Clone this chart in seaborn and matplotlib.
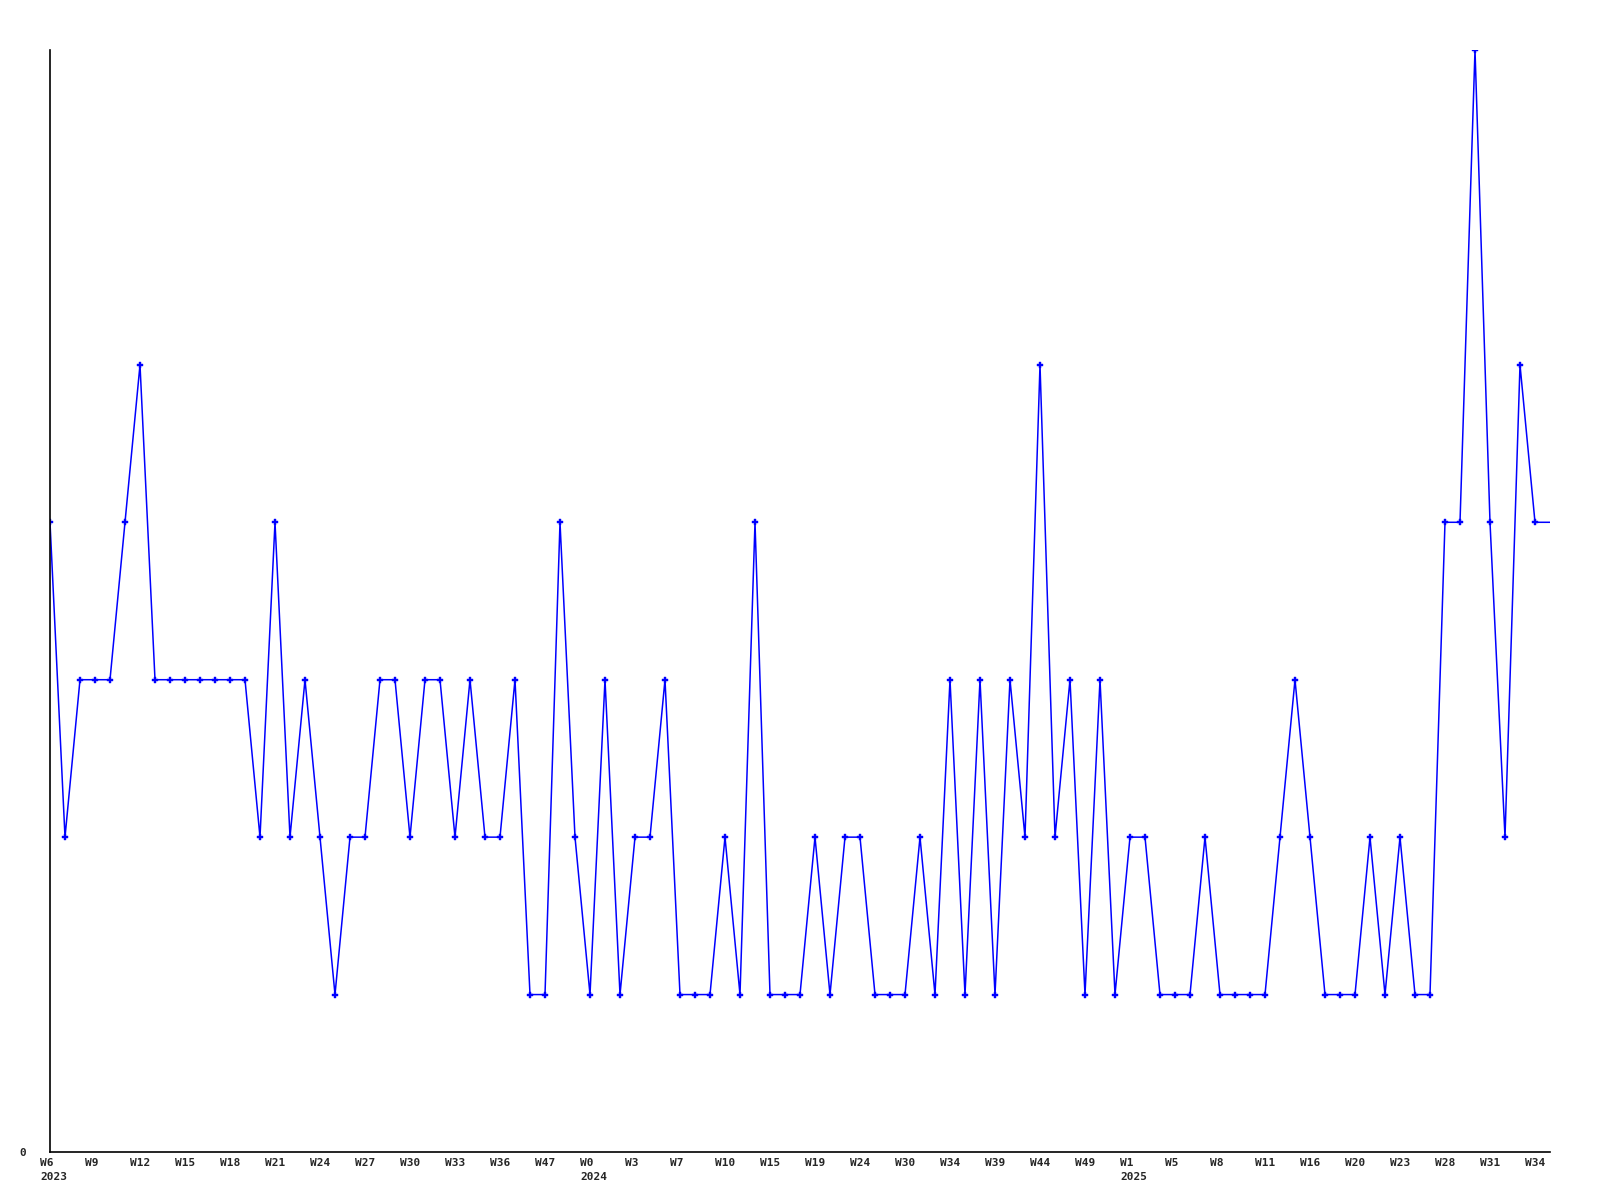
import numpy as np
import pandas as pd
import matplotlib
matplotlib.use('Agg')
import matplotlib.pyplot as plt
import matplotlib.transforms as mtransforms
import seaborn as sns

# weekly counts
values = [4, 2, 3, 3, 3, 4, 5, 3, 3, 3, 3, 3, 3, 3, 2, 4, 2, 3, 2, 1,
          2, 2, 3, 3, 2, 3, 3, 2, 3, 2, 2, 3, 1, 1, 4, 2, 1, 3, 1, 2,
          2, 3, 1, 1, 1, 2, 1, 4, 1, 1, 1, 2, 1, 2, 2, 1, 1, 1, 2, 1,
          3, 1, 3, 1, 3, 2, 5, 2, 3, 1, 3, 1, 2, 2, 1, 1, 1, 2, 1, 1,
          1, 1, 2, 3, 2, 1, 1, 1, 2, 1, 2, 1, 1, 4, 4, 7, 4, 2, 5, 4,
          4]
week_labels = ['W6', 'W9', 'W12', 'W15', 'W18', 'W21', 'W24', 'W27', 'W30', 'W33', 'W36', 'W47',
               'W0', 'W3', 'W7', 'W10', 'W15', 'W19', 'W24', 'W30', 'W34', 'W39', 'W44', 'W49',
               'W1', 'W5', 'W8', 'W11', 'W16', 'W20', 'W23', 'W28', 'W31', 'W34']
years = {0: '2023', 12: '2024', 24: '2025'}

df = pd.DataFrame({'idx': np.arange(len(values)), 'val': values})

sns.set_style('white')
plt.rcParams['font.family'] = ['DejaVu Sans Mono']

fig = plt.figure(figsize=(16, 12), dpi=100)
ax = fig.add_axes([50/1600, 1 - 1152/1200, 1500/1600, 1102/1200])

sns.lineplot(data=df, x='idx', y='val', ax=ax, color='#0000ff', linewidth=1.1,
             marker='P', markersize=4.5, markeredgewidth=0.3, markeredgecolor='#0000ff',
             markevery=list(range(len(values) - 1)))

ax.set_xlabel('')
ax.set_ylabel('')
ax.set_xticks([])
ax.set_yticks([0])
ax.set_yticklabels(['0'], fontsize=8, fontweight='bold')
ax.tick_params(axis='y', length=0, pad=17)
ax.set_xlim(0, len(values) - 1)
ax.set_ylim(0, 7)

# a label every 3 weeks, text starts ~10px left of its point
trans = mtransforms.blended_transform_factory(ax.transData, ax.transAxes)
trans = trans + mtransforms.ScaledTranslation(-10/100, -6/100, fig.dpi_scale_trans)
for i, w in enumerate(week_labels):
    txt = w + ('\n' + years[i] if i in years else '')
    ax.text(3 * i, 0, txt, transform=trans, fontsize=8, fontweight='bold',
            ha='left', va='top', linespacing=1.45, clip_on=False)

for s in ['top', 'right']:
    ax.spines[s].set_visible(False)
for s in ['left', 'bottom']:
    ax.spines[s].set_color('black')
    ax.spines[s].set_linewidth(1.2)

plt.savefig('out.png', dpi=100)
